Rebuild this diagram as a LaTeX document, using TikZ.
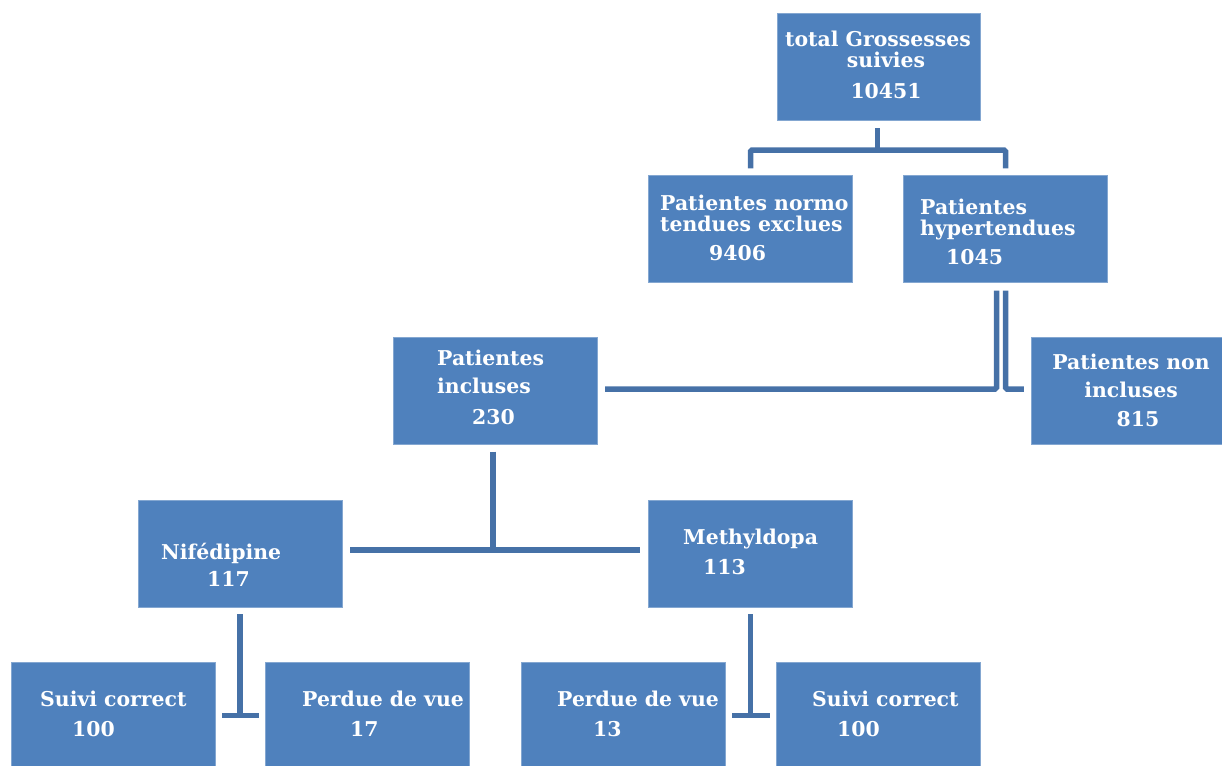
\documentclass[tikz,border=0pt]{standalone}
\usepackage{fontspec}
\setmainfont{DejaVu Serif}
\definecolor{boxblue}{RGB}{79,129,189}
\definecolor{linkblue}{RGB}{70,113,167}
\begin{document}
\begin{tikzpicture}[x=1pt,y=-1pt,
  box/.style={rectangle, fill=boxblue, draw=boxblue!70!white, line width=0.4pt,
    minimum width=204pt, minimum height=107pt, inner sep=0pt},
  txt/.style={anchor=base west, inner sep=0pt, text=white,
    font=\fontsize{20.4}{24}\selectfont\bfseries},
  conn/.style={draw=linkblue, line width=5.5pt, rounded corners=1.5pt}]
\useasboundingbox (0,0) rectangle (1222,765);
% boxes
\node[box, minimum width=203pt] (top) at (878.5,66.5) {};
\node[box] (normo) at (750.5,229) {};
\node[box] (hyper) at (1005.5,229) {};
\node[box] (incl) at (495,391) {};
\node[box] (nonincl) at (1133,391) {};
\node[box] (nifed) at (240,553.5) {};
\node[box] (methyl) at (750.5,553.5) {};
\node[box] (suivia) at (113,715.5) {};
\node[box] (perdueb) at (367,715.5) {};
\node[box] (perduec) at (623,715.5) {};
\node[box] (suivid) at (878,715.5) {};
% texts
\node[txt, anchor=base] (t1) at (878,47) {total Grossesses};
\node[txt, anchor=base] (t2) at (886,68) {suivies};
\node[txt, anchor=base] (t3) at (886,99) {10451};
\node[txt] (n1) at (660,210) {Patientes normo};
\node[txt] (n2) at (660,231) {tendues exclues};
\node[txt] (n3) at (709,260) {9406};
\node[txt] (h1) at (920,214) {Patientes};
\node[txt] (h2) at (920,235) {hypertendues};
\node[txt] (h3) at (946,264) {1045};
\node[txt] (i1) at (437,365) {Patientes};
\node[txt] (i2) at (437,393) {incluses};
\node[txt] (i3) at (472,424) {230};
\node[txt, anchor=base] (ni1) at (1131,369) {Patientes non};
\node[txt, anchor=base] (ni2) at (1131,397) {incluses};
\node[txt, anchor=base] (ni3) at (1138,426) {815};
\node[txt] (f1) at (161,559) {Nifédipine};
\node[txt] (f2) at (207,586) {117};
\node[txt] (m1) at (683,544) {Methyldopa};
\node[txt] (m2) at (703,574) {113};
\node[txt] (sa1) at (40,706) {Suivi correct};
\node[txt] (sa2) at (72,736) {100};
\node[txt] (pb1) at (302,706) {Perdue de vue};
\node[txt] (pb2) at (350,736) {17};
\node[txt] (pc1) at (557,706) {Perdue de vue};
\node[txt] (pc2) at (593,736) {13};
\node[txt] (sd1) at (812,706) {Suivi correct};
\node[txt] (sd2) at (837,736) {100};
% connectors
\coordinate (tj) at (877.5,150);
\draw[conn] ([xshift=-1pt,yshift=-8pt]top.south) -- (tj);
\draw[conn] ([yshift=7pt]normo.north) |- (tj) -| ([yshift=7pt]hyper.north);
\coordinate (hl) at (996.5,389);
\coordinate (hr) at (1005.5,389);
\draw[conn] ([xshift=-9pt,yshift=-8pt]hyper.south) -- (hl) -- ([xshift=8pt]incl.east |- hl);
\draw[conn] ([yshift=-8pt]hyper.south) -- (hr) -- ([xshift=-7pt]nonincl.west |- hr);
\coordinate (ij) at (493,550);
\draw[conn] ([xshift=-2pt,yshift=-7pt]incl.south) -- (ij);
\draw[conn] ([xshift=8pt]nifed.east |- ij) -- ([xshift=-8pt]methyl.west |- ij);
\draw[conn] ([yshift=-7pt]nifed.south) -- (nifed.south |- suivia.east);
\draw[conn] ([xshift=7pt]suivia.east) -- ([xshift=-6pt]perdueb.west);
\draw[conn] ([yshift=-7pt]methyl.south) -- (methyl.south |- perduec.east);
\draw[conn] ([xshift=7pt]perduec.east) -- ([xshift=-6pt]suivid.west);
\end{tikzpicture}
\end{document}
